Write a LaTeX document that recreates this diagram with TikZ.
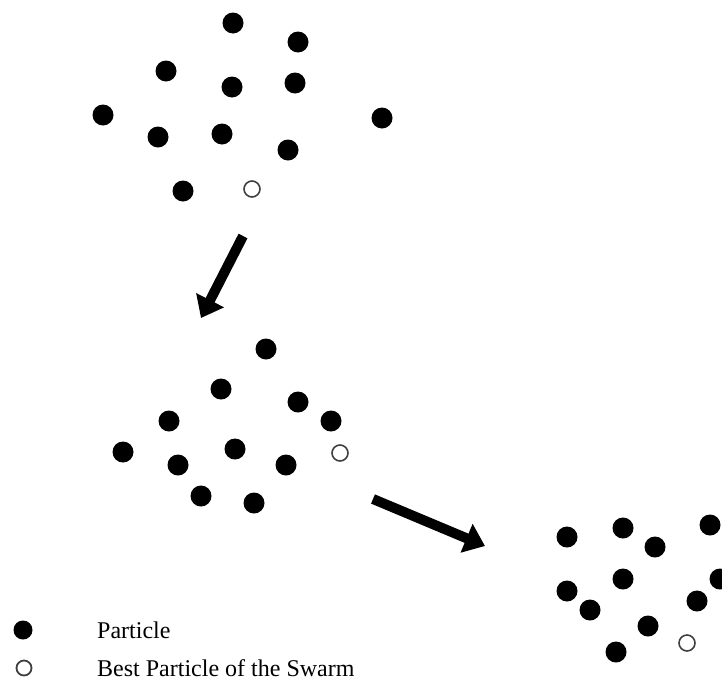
\documentclass[tikz,border=0pt]{standalone}
\usepackage{fontspec}
\setmainfont{Liberation Serif}
\usetikzlibrary{arrows.meta}
\tikzset{
  dot/.style={circle,fill=black,draw=none,minimum size=21pt,inner sep=0pt},
  best/.style={circle,draw=black!75,line width=1.6pt,fill=white,minimum size=16pt,inner sep=0pt},
  ldot/.style={circle,fill=black,draw=none,minimum size=19pt,inner sep=0pt},
  lbest/.style={circle,draw=black!75,line width=1.8pt,fill=white,minimum size=15pt,inner sep=0pt},
  bigarrow/.style={line width=10pt,-{Triangle[length=20pt,width=30pt]}},
  legtext/.style={anchor=west,inner sep=0pt,font=\fontsize{24}{28}\selectfont}
}
\begin{document}
\begin{tikzpicture}[x=1pt,y=-1pt]
\useasboundingbox (0,0) rectangle (722,691);
% top swarm
\node[dot] (t1) at (233,23) {};
\node[dot] (t2) at (298,42) {};
\node[dot] (t3) at (166,71) {};
\node[dot] (t4) at (232,87) {};
\node[dot] (t5) at (295,83) {};
\node[dot] (t6) at (103,115) {};
\node[dot] (t7) at (382,118) {};
\node[dot] (t8) at (158,137) {};
\node[dot] (t9) at (222,134) {};
\node[dot] (t10) at (288,150) {};
\node[dot] (t11) at (183,191) {};
\node[best] (tb) at (252,189) {};
% middle swarm
\node[dot] (m1) at (266,349) {};
\node[dot] (m2) at (221,389) {};
\node[dot] (m3) at (298,402) {};
\node[dot] (m4) at (169,421) {};
\node[dot] (m5) at (331,421) {};
\node[dot] (m6) at (123,452) {};
\node[dot] (m7) at (235,449) {};
\node[dot] (m8) at (178,465) {};
\node[dot] (m9) at (286,465) {};
\node[dot] (m10) at (201,496) {};
\node[dot] (m11) at (254,503) {};
\node[best] (mb) at (340,453) {};
% bottom-right swarm
\node[dot] (b1) at (567,537) {};
\node[dot] (b2) at (623,528) {};
\node[dot] (b3) at (655,547) {};
\node[dot] (b4) at (710,525) {};
\node[dot] (b5) at (623,579) {};
\node[dot] (b6) at (567,591) {};
\node[dot] (b7) at (590,610) {};
\node[dot] (b8) at (720,579) {};
\node[dot] (b9) at (697,601) {};
\node[dot] (b10) at (648,626) {};
\node[dot] (b11) at (616,652) {};
\node[best] (bb) at (687,643) {};
% arrows
\coordinate (a1s) at (243,236);
\coordinate (a1e) at (201,318);
\coordinate (a2s) at (373,499);
\coordinate (a2e) at (485,546);
\draw[bigarrow] (a1s) -- (a1e);
\draw[bigarrow] (a2s) -- (a2e);
% legend
\node[ldot] (ld) at (23,630) {};
\node[lbest] (lb) at (24,668) {};
\node[legtext] (lt1) at (97,630) {Particle};
\node[legtext] (lt2) at (97,668) {Best Particle of the Swarm};
\end{tikzpicture}
\end{document}
